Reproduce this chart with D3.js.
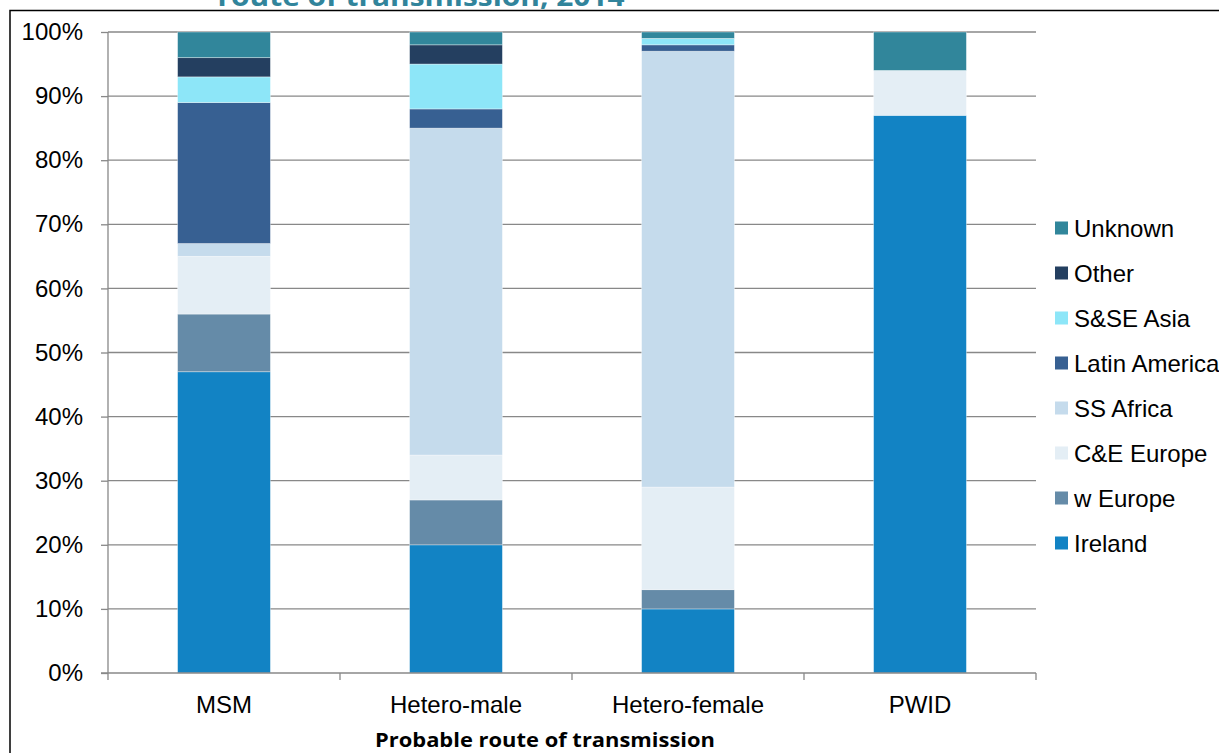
<!DOCTYPE html>
<html>
<head>
<meta charset="utf-8">
<script src="https://cdn.jsdelivr.net/npm/d3@7"></script>
<style>
  html, body { margin: 0; padding: 0; background: #fff; }
  svg { display: block; }
</style>
</head>
<body>
<svg id="chart" width="1219" height="753"></svg>
<script>
// Routes of transmission (x categories)
const categories = ["MSM", "Hetero-male", "Hetero-female", "PWID"];

// Region of origin, stacking order bottom -> top
const seriesNames = ["Ireland", "w Europe", "C&E Europe", "SS Africa", "Latin America", "S&SE Asia", "Other", "Unknown"];
const seriesColors = ["#1283C4", "#658BA8", "#E4EEF5", "#C5DBEC", "#376092", "#8DE6F8", "#243F60", "#31869B"];

// Percentage of cases per region, one array per region, in category order
const ireland      = [47, 20, 10, 87];
const wEurope      = [9, 7, 3, 0];
const ceEurope     = [9, 7, 16, 7];
const ssAfrica     = [2, 51, 68, 0];
const latinAmerica = [22, 3, 1, 0];
const sseAsia      = [4, 7, 1, 0];
const other        = [3, 3, 0, 0];
const unknown      = [4, 2, 1, 6];

const yTicks = [0, 10, 20, 30, 40, 50, 60, 70, 80, 90, 100];

const seriesValues = [ireland, wEurope, ceEurope, ssAfrica, latinAmerica, sseAsia, other, unknown];
const rows = categories.map((c, i) => {
  const r = { cat: c };
  seriesNames.forEach((s, j) => { r[s] = seriesValues[j][i]; });
  return r;
});

const svg = d3.select("#chart");
const plot = { left: 108, right: 1036, top: 32, bottom: 673 };
const labelFont = "'Liberation Sans', Arial, sans-serif";
const labelSize = 24;

const x = d3.scaleBand().domain(categories).range([plot.left, plot.right]).paddingInner(0.6).paddingOuter(0.3);
const xEdges = d3.scaleBand().domain(categories).range([plot.left, plot.right]);
const y = d3.scaleLinear().domain([0, 100]).range([plot.bottom, plot.top]);

// Outer frame
svg.append("rect")
  .attr("x", 10).attr("y", 10.5).attr("width", 1240).attr("height", 800)
  .attr("fill", "none").attr("stroke", "#000").attr("stroke-width", 1.5);

// Title (runs off the top edge)
svg.append("text")
  .attr("x", 421).attr("y", 6)
  .attr("text-anchor", "middle")
  .attr("font-family", "'Open Sans', sans-serif")
  .attr("font-weight", "bold")
  .attr("font-size", 27)
  .attr("textLength", 407)
  .attr("lengthAdjust", "spacingAndGlyphs")
  .attr("fill", "#31849B")
  .text("route of transmission, 2014");

// Horizontal gridlines
svg.append("g").selectAll("line")
  .data(yTicks.filter(d => d > 0))
  .join("line")
  .attr("x1", plot.left).attr("x2", plot.right)
  .attr("y1", d => y(d)).attr("y2", d => y(d))
  .attr("stroke", "#888").attr("stroke-width", 1.3);

// Stacked bars
const stack = d3.stack().keys(seriesNames);
const layers = stack(rows);
svg.append("g").selectAll("g")
  .data(layers)
  .join("g")
  .attr("fill", (d, i) => seriesColors[i])
  .selectAll("rect")
  .data(d => d.filter(p => p[1] - p[0] > 0))
  .join("rect")
  .attr("x", d => x(d.data.cat))
  .attr("width", x.bandwidth())
  .attr("y", d => y(d[1]))
  .attr("height", d => y(d[0]) - y(d[1]))
  .attr("stroke", "rgba(255,255,255,0.45)")
  .attr("stroke-width", 0.8);

// Y axis
const yAxis = d3.axisLeft(y).tickValues(yTicks).tickFormat(d => d + "%").tickSize(7).tickPadding(18);
const gy = svg.append("g").attr("transform", `translate(${plot.left},0)`).call(yAxis);
gy.select(".domain").attr("stroke", "#888").attr("stroke-width", 1.3).attr("d", `M0,${plot.top}V${plot.bottom + 7}`);
gy.selectAll(".tick line").attr("stroke", "#888").attr("stroke-width", 1.3);
gy.selectAll(".tick text")
  .attr("font-family", labelFont)
  .attr("font-size", labelSize).attr("fill", "#000");

// X axis with ticks at category boundaries
const gx = svg.append("g");
gx.append("line")
  .attr("x1", plot.left - 7).attr("x2", plot.right)
  .attr("y1", plot.bottom).attr("y2", plot.bottom)
  .attr("stroke", "#888").attr("stroke-width", 1.3);
const edges = categories.map(c => xEdges(c)).concat([plot.right]);
gx.selectAll("line.edge")
  .data(edges.slice(1))
  .join("line").attr("class", "edge")
  .attr("x1", d => d).attr("x2", d => d)
  .attr("y1", plot.bottom).attr("y2", plot.bottom + 7)
  .attr("stroke", "#888").attr("stroke-width", 1.3);
gx.selectAll("text")
  .data(categories)
  .join("text")
  .attr("x", d => xEdges(d) + xEdges.bandwidth() / 2)
  .attr("y", 713)
  .attr("text-anchor", "middle")
  .attr("font-family", labelFont)
  .attr("font-size", labelSize).attr("fill", "#000")
  .text(d => d);

// X axis title
svg.append("text")
  .attr("x", 545).attr("y", 747)
  .attr("text-anchor", "middle")
  .attr("font-family", "'Open Sans', sans-serif")
  .attr("font-weight", "bold")
  .attr("font-size", 19)
  .attr("textLength", 340)
  .attr("lengthAdjust", "spacingAndGlyphs")
  .attr("fill", "#000")
  .text("Probable route of transmission");

// Legend, top entry is the top of the stack
const legendItems = seriesNames.map((n, i) => ({ name: n, color: seriesColors[i] })).reverse();
const lg = svg.append("g").selectAll("g")
  .data(legendItems)
  .join("g")
  .attr("transform", (d, i) => `translate(1055,${228 + i * 45})`);
lg.append("rect")
  .attr("x", 0).attr("y", -6.5).attr("width", 13).attr("height", 13)
  .attr("fill", d => d.color);
lg.append("text")
  .attr("x", 19).attr("y", 8.5)
  .attr("font-family", labelFont)
  .attr("font-size", labelSize).attr("fill", "#000")
  .text(d => d.name);
</script>
</body>
</html>
